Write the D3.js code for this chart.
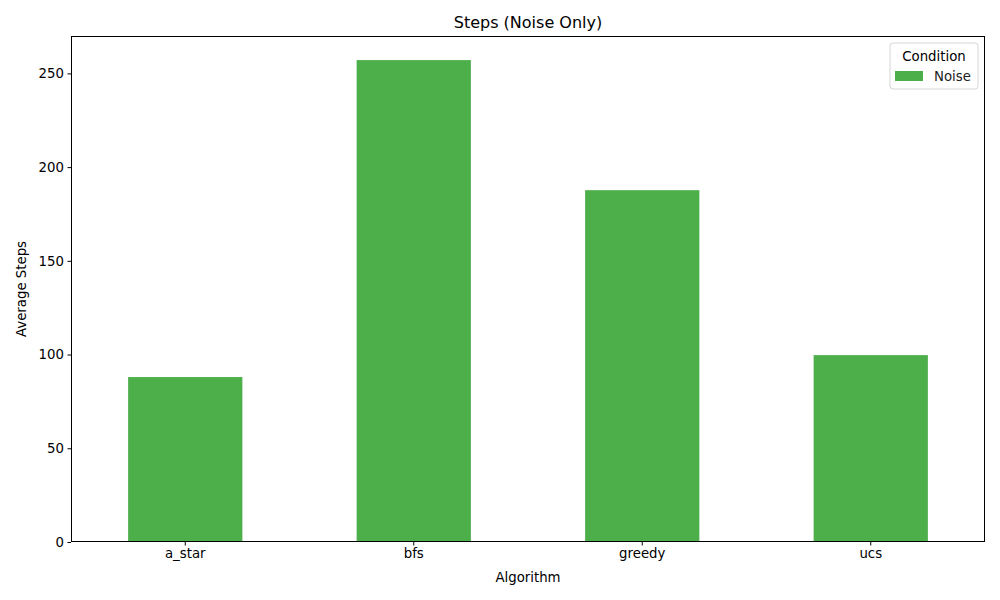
<!DOCTYPE html>
<html>
<head>
<meta charset="utf-8">
<script src="https://cdn.jsdelivr.net/npm/d3@7"></script>
<style>
body { margin: 0; background: #fff; }
svg { font-family: "DejaVu Sans", sans-serif; }
</style>
</head>
<body>
<svg id="chart" width="1000" height="600"></svg>
<script>
const categories = ["a_star", "bfs", "greedy", "ucs"];
const noiseValues = [88.0, 257.1, 187.7, 99.7];
const yTicks = [0, 50, 100, 150, 200, 250];
const seriesName = "Noise";

const svg = d3.select("#chart");
const margin = {left: 71, right: 15, top: 36, bottom: 58};
const W = 1000, H = 600;
const iw = W - margin.left - margin.right;
const ih = H - margin.top - margin.bottom;
const color = "#4daf4a";

const g = svg.append("g").attr("transform", `translate(${margin.left},${margin.top})`);

const x = d3.scaleBand().domain(categories).range([0, iw]).paddingInner(0.5).paddingOuter(0.25);
const y = d3.scaleLinear().domain([0, d3.max(noiseValues) * 1.05]).range([ih, 0]);

g.selectAll("rect.bar").data(categories).enter().append("rect")
  .attr("class", "bar")
  .attr("x", d => x(d))
  .attr("width", x.bandwidth())
  .attr("y", (d, i) => y(noiseValues[i]))
  .attr("height", (d, i) => ih - y(noiseValues[i]))
  .attr("fill", color);

const xAxis = g.append("g").attr("transform", `translate(0,${ih})`)
  .call(d3.axisBottom(x).tickSize(3.5).tickPadding(3.5));
const yAxis = g.append("g")
  .call(d3.axisLeft(y).tickValues(yTicks).tickSize(3.5).tickPadding(3.5));
[xAxis, yAxis].forEach(a => {
  a.selectAll("text").attr("font-size", 13.3).attr("fill", "#000").attr("font-family", "DejaVu Sans, sans-serif");
  a.selectAll("line").attr("stroke", "#000").attr("stroke-width", 1);
  a.select(".domain").remove();
});

// frame
g.append("rect").attr("x", 0.5).attr("y", 0.5).attr("width", iw - 1).attr("height", ih - 1)
  .attr("fill", "none").attr("stroke", "#000").attr("stroke-width", 1)
  .attr("shape-rendering", "crispEdges");

// title & labels
svg.append("text").attr("x", margin.left + iw / 2).attr("y", 28)
  .attr("text-anchor", "middle").attr("font-size", 16).text("Steps (Noise Only)");
svg.append("text").attr("x", margin.left + iw / 2).attr("y", 582)
  .attr("text-anchor", "middle").attr("font-size", 13.3).text("Algorithm");
svg.append("text").attr("transform", `translate(26,${margin.top + ih / 2}) rotate(-90)`)
  .attr("text-anchor", "middle").attr("font-size", 13.3).text("Average Steps");

// legend
const lg = svg.append("g").attr("transform", "translate(890,43)");
lg.append("rect").attr("x", 0).attr("y", 0).attr("width", 88).attr("height", 46).attr("rx", 3)
  .attr("fill", "#fff").attr("fill-opacity", 0.8).attr("stroke", "#ccc").attr("stroke-width", 0.8);
lg.append("text").attr("x", 44).attr("y", 18).attr("text-anchor", "middle").attr("font-size", 13.3).text("Condition");
lg.append("rect").attr("x", 5).attr("y", 28).attr("width", 28).attr("height", 10).attr("fill", color);
lg.append("text").attr("x", 44).attr("y", 38).attr("font-size", 13.3).attr("fill", "#222").text(seriesName);
</script>
</body>
</html>
